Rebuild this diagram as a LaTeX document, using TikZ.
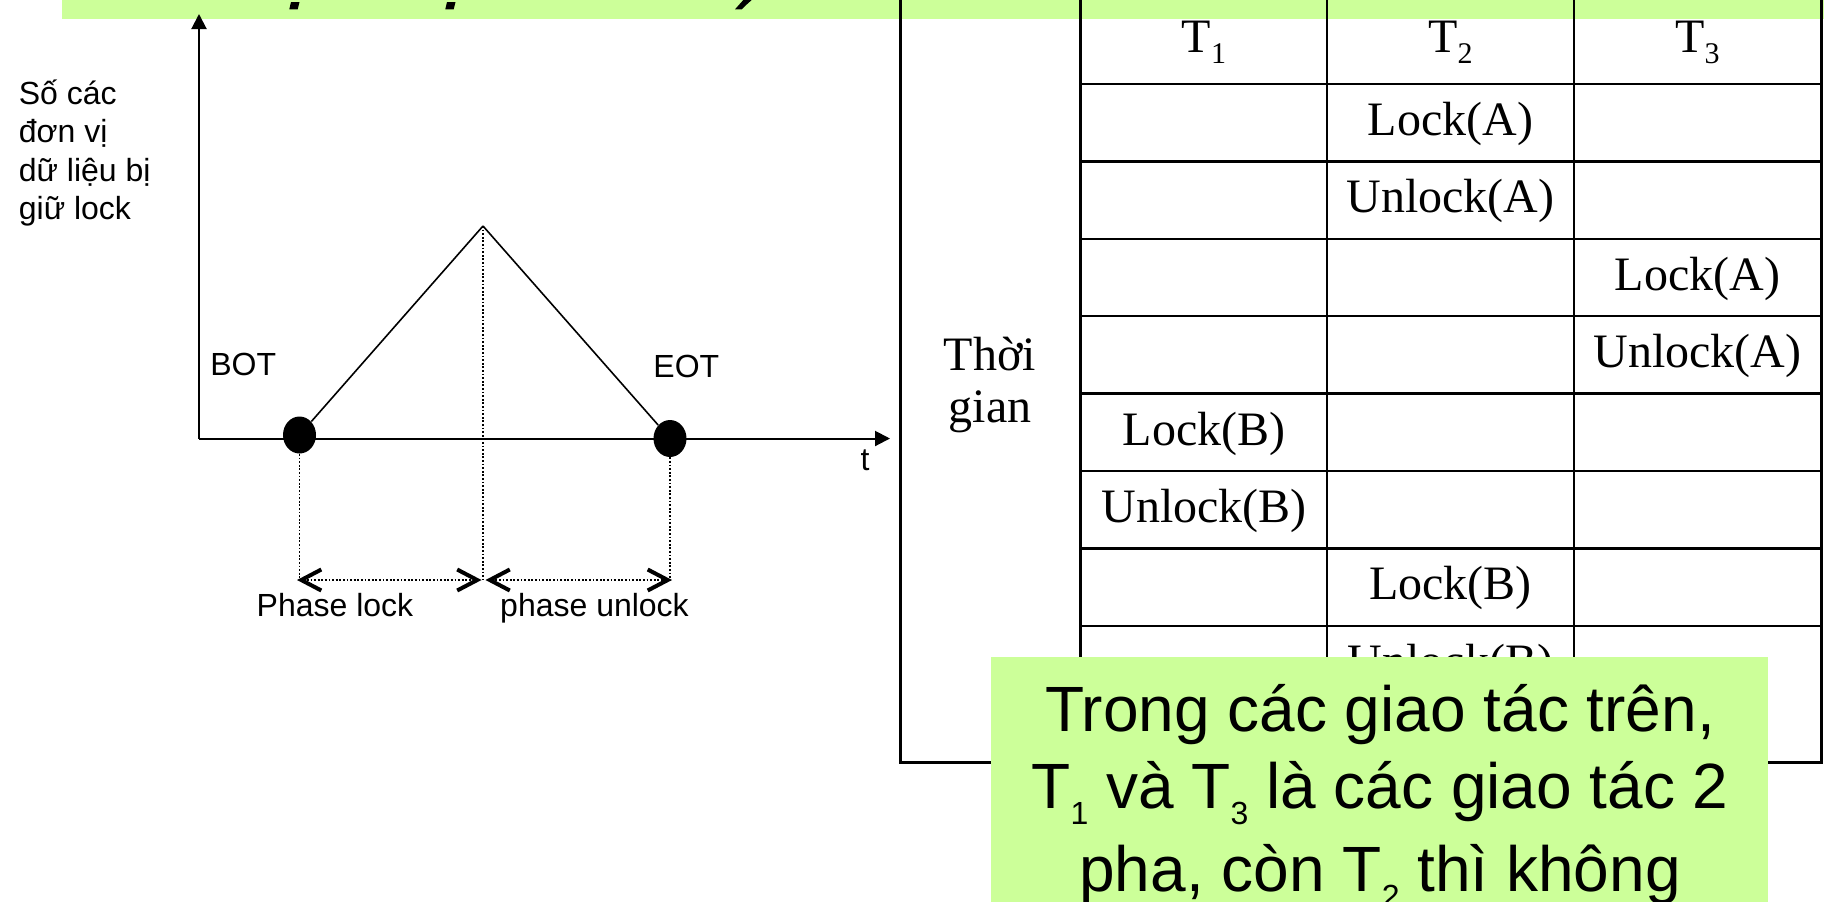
\documentclass[tikz,border=0pt]{standalone}
\usepackage{fontspec}
\setmainfont{Liberation Serif}
\newfontfamily\arial{Liberation Sans}
\usetikzlibrary{arrows.meta,shapes.geometric}
\definecolor{lgreen}{HTML}{CCFF99}
\newcommand\mysubA[1]{\raisebox{-5.5pt}{\fontsize{15}{15}\selectfont #1}}
\newcommand\mysubB[1]{\raisebox{-8pt}{\fontsize{16}{16}\selectfont #1}}
\begin{document}
\begin{tikzpicture}[x=0.5pt,y=-0.5pt,
  lbl/.style={font=\arial\fontsize{16}{19.5}\selectfont, inner sep=0pt},
  cell/.style={font=\fontsize{24}{28}\selectfont, inner sep=0pt, anchor=base},
  note/.style={font=\arial\fontsize{32}{38.5}\selectfont, inner sep=0pt, anchor=base},
  axisline/.style={line width=1pt, -{Triangle[length=7.5pt,width=7.5pt]}},
  guide/.style={line width=0.75pt, dash pattern=on 0.9pt off 0.9pt},
  spanarrow/.style={guide, {Straight Barb[length=10pt,width=10.5pt,line width=2pt]}-{Straight Barb[length=10pt,width=10.5pt,line width=2pt]}},
  dotnode/.style={ellipse, fill=black, minimum width=16.5pt, minimum height=18.5pt, inner sep=0pt},
  tline/.style={line width=1.25pt},
  tframe/.style={line width=1.5pt},
  slope/.style={line width=0.8pt},
]
\useasboundingbox (0,0) rectangle (1824,901);
\fill[white] (0,0) rectangle (1824,901);

% title band with cut-off title glyphs
\fill[lgreen] (62,0) rectangle (1824,18.5);
\fill[black] (291,2) -- (299.5,2) -- (297.7,9.3) -- (289.3,9.3) -- cycle;
\fill[black] (447,2) -- (455.5,2) -- (453.7,9.3) -- (445.3,9.3) -- cycle;
\fill[black] (743.3,0) -- (751.7,0) -- (745,6) -- (741.7,9.3) -- (735,9.3) -- cycle;

% ---------- graph ----------
\coordinate (o) at (199,438.5);
\coordinate (ytop) at (199,14);
\coordinate (xend) at (890,438.5);
\draw[axisline] (o) -- (ytop);
\draw[axisline] (o) -- (xend);

\coordinate (pk) at (483,226);
\node[dotnode] (d1) at (299.5,435) {};
\node[dotnode] (d2) at (670,438.5) {};
\draw[slope] (d1) -- (pk);
\draw[slope] (pk) -- (d2);

\coordinate (b1) at (299.5,580);
\coordinate (pb) at (483,580);
\coordinate (b2) at (670,580);
\coordinate (pbl) at (481.5,580);
\coordinate (pbr) at (485.5,580);
\coordinate (b1l) at (297,580);
\coordinate (b2r) at (672,580);
\draw[guide] (d1) -- (b1);
\draw[guide] (d2) -- (b2);
\draw[guide] (pk) -- (pb);
\draw[spanarrow] (b1l) -- (pbl);
\draw[spanarrow] (pbr) -- (b2r);

\node[lbl, anchor=base] (lphase) at (335,616) {Phase lock};
\node[lbl, anchor=base] (uphase) at (594.5,616) {phase unlock};
\node[lbl, anchor=base] (tl) at (865,470) {t};
\node[lbl, anchor=base west] (bot) at (210,375) {BOT};
\node[lbl, anchor=base west] (eot) at (653,377) {EOT};

\node[lbl, anchor=base west] (y1) at (18.5,104) {Số các};
\node[lbl, anchor=base west] (y2) at (18.5,142.5) {đơn vị};
\node[lbl, anchor=base west] (y3) at (18.5,181) {dữ liệu bị};
\node[lbl, anchor=base west] (y4) at (18.5,219.5) {giữ lock};

% ---------- table ----------
\foreach \x in {1080.5,1327,1574} \draw[tline] (\x,-5) -- (\x,762);
\foreach \y in {84,161.4,238.8,316.2,393.6,471,548.4,625.8} \draw[tline] (1080.5,\y) -- (1821,\y);
\draw[tframe] (900,-5) -- (900,762) -- (1821,762) -- (1821,-5);

\node[cell] (h1) at (1204,52) {T\mysubA{1}};
\node[cell] (h2) at (1450.5,52) {T\mysubA{2}};
\node[cell] (h3) at (1697.5,52) {T\mysubA{3}};

\node[cell] (tg1) at (990,370) {Thời};
\node[cell] (tg2) at (990,422) {gian};

\node[cell] (r1) at (1450.5,135.5) {Lock(A)};
\node[cell] (r2) at (1450.5,212.9) {Unlock(A)};
\node[cell] (r3) at (1697.5,290.3) {Lock(A)};
\node[cell] (r4) at (1697.5,367.7) {Unlock(A)};
\node[cell] (r5) at (1204,445.1) {Lock(B)};
\node[cell] (r6) at (1204,522.5) {Unlock(B)};
\node[cell] (r7) at (1450.5,599.9) {Lock(B)};
\node[cell] (r8) at (1450.5,677.3) {Unlock(B)};

% ---------- note box ----------
\fill[lgreen] (991,657) rectangle (1768,910);
\node[note] (n1) at (1380,731) {Trong các giao tác trên,};
\node[note] (n2) at (1380,808) {T\mysubB{1} và T\mysubB{3} là các giao tác 2};
\node[note] (n3) at (1380,891) {pha, còn T\mysubB{2} thì không};
\end{tikzpicture}
\end{document}
